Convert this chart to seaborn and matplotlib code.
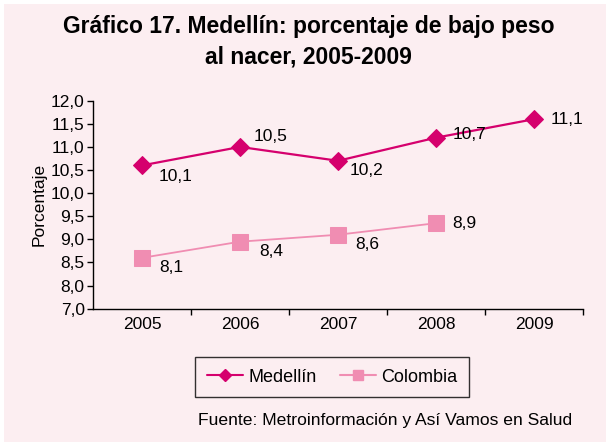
import pandas as pd
import seaborn as sns
import matplotlib.pyplot as plt
from matplotlib.lines import Line2D
from matplotlib.patches import Rectangle

# Values as drawn in the chart (positions), and the printed data labels
years = ["2005", "2006", "2007", "2008", "2009"]
medellin = [10.6, 11.0, 10.7, 11.2, 11.6]
colombia_years = ["2005", "2006", "2007", "2008"]
colombia = [8.6, 8.95, 9.1, 9.35]
medellin_labels = ["10,1", "10,5", "10,2", "10,7", "11,1"]
colombia_labels = ["8,1", "8,4", "8,6", "8,9"]
ytick_values = [7.5, 8.0, 8.5, 9.0, 9.5, 10.0, 10.5, 11.0, 11.5, 12.0]
ytick_labels = ["7,0", "8,0", "8,5", "9,0", "9,5", "10,0", "10,5", "11,0", "11,5", "12,0"]

# label offsets in pixels (layout only)
med_off = [(17, -11), (14, 10), (12, -10), (17, 3), (17, 0)]
col_off = [(17, -10), (19, -10), (17, -10), (16, 0)]

BG = "#FCEEF1"
C_MED = "#D5006D"
C_COL = "#F08DB2"

sns.set_theme(style="white")
plt.rcParams["font.family"] = ["Liberation Sans", "DejaVu Sans"]
plt.rcParams["text.color"] = "black"
plt.rcParams["xtick.color"] = "black"
plt.rcParams["ytick.color"] = "black"
plt.rcParams["axes.labelcolor"] = "black"

fig = plt.figure(figsize=(6.11, 4.42), dpi=100)
fig.patch.set_facecolor("white")
fig.patches.append(Rectangle((4 / 611, 0), 602 / 611, 1 - 4 / 442,
                             transform=fig.transFigure, facecolor=BG,
                             edgecolor="none", zorder=-10))

ax = fig.add_axes([93 / 611, 1 - 308.7 / 442, 490 / 611, 208 / 442])
ax.set_facecolor(BG)

df_med = pd.DataFrame({"year": years, "value": medellin})
df_col = pd.DataFrame({"year": colombia_years, "value": colombia})

sns.lineplot(data=df_med, x="year", y="value", ax=ax, color=C_MED,
             marker="D", markersize=9, markeredgecolor=C_MED, linewidth=1.6,
             sort=False)
sns.lineplot(data=df_col, x="year", y="value", ax=ax, color=C_COL,
             marker="s", markersize=11, markeredgecolor=C_COL, linewidth=1.3,
             sort=False)

for i, (v, lab) in enumerate(zip(medellin, medellin_labels)):
    ax.annotate(lab, (i, v), xytext=med_off[i], textcoords="offset pixels",
                ha="left", va="center", fontsize=12.5)
for i, (v, lab) in enumerate(zip(colombia, colombia_labels)):
    ax.annotate(lab, (i, v), xytext=col_off[i], textcoords="offset pixels",
                ha="left", va="center", fontsize=12.5)

ax.set_xlim(-0.5, 4.5)
ax.set_ylim(7.5, 12.0)
ax.set_yticks(ytick_values)
ax.set_yticklabels(ytick_labels)
ax.set_xticks(range(len(years)))
ax.set_xticklabels(years)
ax.set_xticks([0.5, 1.5, 2.5, 3.5, 4.5], minor=True)
ax.tick_params(axis="x", which="major", length=0, labelsize=12.5, pad=6)
ax.tick_params(axis="x", which="minor", length=4, width=1, color="black",
               direction="out", bottom=True)
ax.tick_params(axis="y", length=4, width=1, color="black", direction="out",
               labelsize=12.5, pad=2, left=True)
ax.set_xlabel("")
ax.set_ylabel("Porcentaje", fontsize=12.5, labelpad=3)
for s in ["top", "right"]:
    ax.spines[s].set_visible(False)
for s in ["left", "bottom"]:
    ax.spines[s].set_color("black")
    ax.spines[s].set_linewidth(1)

fig.text(0.505, 1 - 26 / 442, "Gráfico 17. Medellín: porcentaje de bajo peso",
         ha="center", va="center", fontsize=16.5, fontweight="bold")
fig.text(0.505, 1 - 57 / 442, "al nacer, 2005-2009",
         ha="center", va="center", fontsize=16.5, fontweight="bold")

handles = [
    Line2D([], [], color=C_MED, marker="D", markersize=6, linewidth=1.5),
    Line2D([], [], color=C_COL, marker="s", markersize=7, linewidth=1.5),
]
leg = fig.legend(handles, ["Medellín", "Colombia"], ncol=2,
                 loc="center", bbox_to_anchor=(332 / 611, 1 - 377 / 442),
                 fontsize=13, frameon=True, fancybox=False,
                 handlelength=2.0, columnspacing=1.3, handletextpad=0.3,
                 borderpad=0.65, borderaxespad=0)
leg.get_frame().set_edgecolor("black")
leg.get_frame().set_linewidth(1)
leg.get_frame().set_facecolor(BG)

fig.text(198 / 611, 1 - 420 / 442, "Fuente: Metroinformación y Así Vamos en Salud",
         ha="left", va="center", fontsize=12.6)

fig.savefig("out.png", dpi=100, facecolor=fig.get_facecolor())
